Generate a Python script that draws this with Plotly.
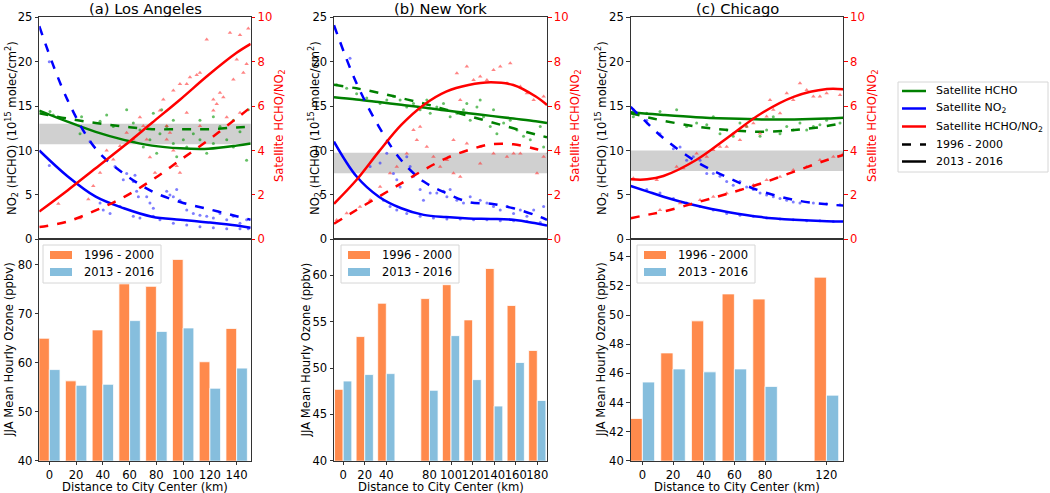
import plotly.graph_objects as go

W, H = 1050, 493
FONT = "DejaVu Sans"

# ================= DATA =================
# ---- top panels: fitted curves (distance km) ----
dist_a = [0, 20, 40, 60, 80, 100, 120, 140, 150]
hcho_a_96 = [14.2, 13.6, 13.1, 12.7, 12.4, 12.4, 12.4, 12.6, 12.7]
hcho_a_13 = [14.5, 13.25, 12.1, 11.2, 10.55, 10.25, 10.2, 10.55, 10.8]
no2_a_96 = [24.0, 15.7, 10.2, 7.4, 5.4, 4.2, 3.4, 2.6, 2.2]
no2_a_13 = [10.0, 7.1, 4.8, 3.5, 2.55, 2.2, 1.9, 1.55, 1.3]
ratio_a_96 = [0.55, 0.8, 1.3, 1.9, 2.67, 3.57, 4.47, 5.45, 5.95]
ratio_a_13 = [1.25, 2.2, 3.2, 4.2, 5.25, 6.3, 7.4, 8.4, 8.8]

dist_b = [0, 20, 40, 60, 80, 100, 120, 140, 160, 180, 190]
hcho_b_96 = [17.4, 17.0, 16.5, 15.9, 15.3, 14.6, 13.9, 13.2, 12.5, 11.8, 11.5]
hcho_b_13 = [16.0, 15.75, 15.45, 15.15, 14.85, 14.5, 14.2, 13.9, 13.6, 13.3, 13.1]
no2_b_96 = [24.1, 17.6, 12.7, 8.9, 6.5, 5.2, 4.2, 4.0, 3.5, 2.7, 2.2]
no2_b_13 = [11.0, 7.1, 4.8, 3.5, 2.75, 2.5, 2.35, 2.3, 2.2, 1.8, 1.55]
ratio_b_96 = [0.7, 1.32, 1.92, 2.52, 3.12, 3.65, 4.02, 4.28, 4.28, 4.07, 3.9]
ratio_b_13 = [1.6, 2.67, 3.95, 5.15, 6.05, 6.65, 6.95, 7.07, 6.95, 6.43, 6.05]

dist_c = [0, 10, 20, 40, 60, 80, 100, 120, 130]
hcho_c_96 = [14.2, 13.75, 13.35, 12.7, 12.3, 12.1, 12.3, 12.75, 13.1]
hcho_c_13 = [14.3, 14.15, 14.0, 13.75, 13.6, 13.5, 13.5, 13.6, 13.7]
no2_c_96 = [14.9, 13.1, 11.4, 8.75, 6.9, 5.4, 4.43, 3.94, 3.8]
no2_c_13 = [6.0, 5.4, 4.8, 3.8, 3.05, 2.5, 2.2, 2.03, 2.0]
ratio_c_96 = [0.95, 1.1, 1.25, 1.65, 2.07, 2.52, 3.05, 3.57, 3.8]
ratio_c_13 = [2.7, 2.7, 2.85, 3.57, 4.62, 5.68, 6.43, 6.77, 6.76]

# gray reference bands (left-axis units)
band_a = [10.7, 13.0]
band_b = [7.45, 9.75]
band_c = [7.7, 10.0]

# ---- top panels: scattered satellite values ----
pa_no2_x = [7.1, 7.1, 36.0, 53.7, 59.6, 62.0, 66.7, 67.9, 69.1, 70.3, 76.2, 78.5, 80.9, 90.4, 92.7, 95.1,
            97.5, 99.8, 104.6, 109.3, 114.0, 118.8, 123.5, 128.2, 133.0, 137.7, 142.4, 147.1, 43.1, 45.4,
            50.2, 57.3, 66.7, 71.4, 80.9, 85.6, 95.1, 104.6, 114.0, 123.5, 133.0, 142.4, 148.3]
pa_no2_y = [20.0, 8.3, 11.0, 8.2, 6.7, 7.4, 6.5, 7.2, 5.4, 4.8, 4.8, 4.1, 3.5, 5.4, 5.0, 4.8,
            5.6, 4.4, 3.3, 2.9, 2.7, 2.6, 2.4, 2.9, 2.2, 2.6, 1.8, 2.2, 4.1, 3.3,
            2.9, 3.7, 2.6, 2.4, 2.6, 2.2, 1.8, 1.6, 1.4, 1.3, 1.2, 1.2, 1.2]
pa_hcho_x = [7.6, 9.9, 28.9, 30.0, 43.1, 47.8, 52.5, 62.0, 66.7, 71.4, 73.8, 78.5, 83.3, 85.6, 90.4, 95.1,
             97.5, 102.2, 104.6, 109.3, 114.0, 118.8, 123.5, 128.2, 133.0, 137.7, 142.4, 147.1, 148.3,
             80.9, 86.8, 95.1, 114.0, 123.5, 137.7]
pa_hcho_y = [14.4, 14.0, 11.9, 13.8, 13.3, 14.0, 12.7, 14.6, 13.1, 12.3, 10.4, 11.2, 9.7, 11.9, 12.7, 10.8,
             9.3, 11.2, 10.4, 11.9, 11.2, 9.7, 10.8, 12.7, 11.2, 10.4, 12.1, 8.9, 14.6,
             14.2, 14.6, 13.4, 13.4, 13.8, 13.4]
pa_ratio_x = [13.5, 28.9, 34.8, 38.3, 43.1, 47.8, 52.5, 57.3, 62.0, 66.7, 71.4, 73.8, 76.2, 78.5, 82.1, 85.6,
              88.0, 90.4, 92.7, 95.1, 97.5, 99.8, 99.8, 104.6, 106.9, 111.7, 114.0, 118.8, 123.5, 125.9,
              128.2, 130.6, 135.3, 137.7, 140.1, 142.4, 144.8, 147.1, 148.3, 95.1, 104.6, 114.0, 123.5,
              133.0, 142.4, 90.4]
pa_ratio_y = [1.6, 0.95, 1.8, 2.4, 3.0, 4.0, 3.6, 4.2, 4.8, 4.5, 5.5, 5.1, 4.5, 3.7, 3.0, 5.8,
              6.3, 5.1, 4.8, 4.0, 3.3, 3.0, 7.0, 7.0, 7.3, 7.4, 7.5, 9.0, 6.3, 6.1,
              6.6, 6.4, 9.3, 7.2, 8.1, 9.2, 7.5, 7.9, 9.5, 6.7, 5.7, 5.1, 5.8,
              5.5, 5.7, 4.5]

pb_no2_x = [14.3, 32.2, 41.1, 47.1, 53.0, 56.0, 59.0, 64.9, 67.9, 70.9, 76.8, 79.8, 85.8, 91.7, 97.7, 100.7,
            103.6, 109.6, 115.5, 121.5, 130.4, 136.4, 142.3, 148.3, 154.3, 160.2, 166.2, 172.1, 178.1, 187.0,
            44.1, 50.0, 56.0, 64.9, 76.8, 88.7, 100.7, 112.6, 124.5, 136.4, 148.3, 160.2, 172.1, 184.0]
pb_no2_y = [20.4, 8.2, 8.6, 9.7, 7.4, 6.7, 5.9, 9.3, 8.2, 7.1, 5.6, 4.4, 5.2, 5.2, 5.4, 4.8,
            5.6, 4.4, 4.1, 4.8, 4.4, 4.1, 3.7, 3.3, 3.7, 2.9, 3.3, 2.6, 3.3, 3.7,
            4.4, 3.7, 3.3, 2.9, 2.6, 2.4, 2.3, 2.3, 2.2, 2.2, 2.1, 2.1, 2.0, 1.9]
pb_hcho_x = [2.4, 11.3, 20.2, 29.2, 41.1, 47.1, 53.0, 59.0, 64.9, 70.9, 76.8, 82.8, 85.8, 91.7, 97.7, 103.6,
             109.6, 115.5, 121.5, 127.5, 133.4, 139.4, 145.3, 151.3, 157.2, 163.2, 169.1, 175.1, 184.0, 187.0,
             118.5, 130.4, 142.3]
pb_hcho_y = [17.4, 17.0, 16.4, 15.9, 15.3, 15.7, 16.1, 15.7, 14.9, 15.3, 14.6, 15.7, 14.2, 14.9, 15.3, 13.8,
             14.2, 14.6, 13.4, 14.9, 13.8, 12.7, 11.9, 13.1, 13.4, 12.3, 11.6, 11.2, 12.7, 10.4,
             15.3, 15.7, 14.6]
pb_ratio_x = [2.4, 11.3, 23.2, 32.2, 41.1, 50.0, 56.0, 64.9, 70.9, 73.9, 76.8, 82.8, 88.7, 94.7, 100.7, 106.6,
              109.6, 112.6, 118.5, 124.5, 130.4, 136.4, 142.3, 148.3, 154.3, 157.2, 166.2, 172.1, 178.1, 187.0,
              118.5, 130.4, 142.3, 154.3, 166.2, 181.1, 187.0, 112.6, 106.6, 130.4, 160.2]
pb_ratio_y = [0.87, 1.17, 1.47, 1.77, 2.37, 2.97, 3.27, 3.87, 4.92, 4.47, 5.07, 4.17, 3.72, 3.27, 3.57, 2.97,
              7.48, 6.28, 7.78, 7.18, 7.33, 7.18, 7.63, 7.78, 7.03, 7.93, 6.88, 6.58, 6.28, 6.43,
              4.32, 4.17, 3.87, 3.72, 3.87, 2.97, 3.72, 2.82, 4.47, 3.42, 3.87]

pc_no2_x = [1.6, 9.8, 17.9, 26.1, 30.2, 34.2, 38.3, 42.4, 46.5, 50.5, 54.6, 58.7, 62.7, 66.8, 70.9, 75.0,
            79.1, 83.1, 87.2, 91.3, 95.4, 99.4, 103.5, 111.7, 119.8, 128.0,
            9.8, 17.9, 26.1, 34.2, 42.4, 50.5, 58.7, 66.8, 75.0, 83.1, 91.3, 99.4, 107.6, 115.7, 123.9]
pc_no2_y = [14.6, 13.4, 11.9, 10.2, 10.4, 8.9, 9.3, 8.9, 7.4, 7.4, 7.1, 6.5, 6.1, 6.5, 5.9, 5.6,
            5.2, 5.0, 4.8, 4.6, 4.4, 4.2, 4.1, 4.1, 4.0, 3.9,
            5.6, 5.2, 4.6, 4.1, 3.7, 3.3, 2.9, 2.7, 2.6, 2.4, 2.3, 2.2, 2.1, 2.1, 2.0]
pc_hcho_x = [1.6, 9.8, 17.9, 28.1, 34.2, 40.3, 46.5, 50.5, 54.6, 58.7, 62.7, 66.8, 70.9, 75.0, 79.1, 83.1,
             87.2, 91.3, 95.4, 99.4, 103.5, 107.6, 111.7, 115.7, 119.8, 128.0]
pc_hcho_y = [13.8, 14.2, 14.4, 14.6, 12.7, 13.1, 12.9, 13.8, 11.9, 12.3, 11.6, 13.1, 12.7, 13.6, 11.6, 12.3,
             13.8, 11.9, 12.7, 12.3, 13.1, 12.3, 12.7, 12.9, 13.4, 13.1]
pc_ratio_x = [1.6, 15.9, 28.1, 32.2, 40.3, 46.5, 50.5, 54.6, 58.7, 62.7, 66.8, 70.9, 75.0, 79.1, 83.1, 85.2,
              87.2, 91.3, 95.4, 99.4, 103.5, 107.6, 111.7, 115.7, 119.8, 128.0,
              17.9, 30.2, 42.4, 50.5, 58.7, 66.8, 75.0, 83.1, 91.3, 99.4, 107.6, 115.7, 123.9, 130.0]
pc_ratio_y = [2.75, 2.67, 3.27, 3.20, 3.87, 3.72, 4.02, 4.17, 4.17, 4.77, 4.47, 5.08, 5.23, 4.77, 5.53, 6.28,
              5.83, 5.68, 6.58, 6.28, 7.03, 6.73, 6.43, 6.43, 6.58, 6.50,
              1.32, 1.62, 1.77, 1.92, 2.07, 2.22, 2.45, 2.67, 2.82, 3.12, 3.27, 3.57, 3.72, 3.87]

# ---- bottom panels: JJA mean hourly ozone (ppbv) ----
bar_x_a = [0, 20, 40, 60, 80, 100, 120, 140]
o3_a_96 = [65.0, 56.3, 66.7, 76.1, 75.6, 81.1, 60.2, 67.0]
o3_a_13 = [58.6, 55.4, 55.6, 68.6, 66.4, 67.1, 54.8, 58.9]
bar_x_b = [0, 20, 40, 80, 100, 120, 140, 160, 180]
o3_b_96 = [47.7, 53.4, 57.0, 57.5, 59.0, 55.2, 60.75, 56.75, 51.9]
o3_b_13 = [48.6, 49.3, 49.4, 47.6, 53.5, 48.75, 45.9, 50.6, 46.5]
bar_x_c = [0, 20, 40, 60, 80, 120]
o3_c_96 = [42.9, 47.4, 49.6, 51.45, 51.1, 52.6]
o3_c_13 = [45.4, 46.3, 46.1, 46.3, 45.1, 44.5]

titles = ["(a) Los Angeles", "(b) New York", "(c) Chicago"]
period_labels = ["1996 - 2000", "2013 - 2016"]
legend_labels = ["Satellite HCHO", "Satellite NO<sub>2</sub>", "Satellite HCHO/NO<sub>2</sub>"]

# ================= STYLE / LAYOUT =================
GREEN, BLUE, RED = "#008000", "#0000ff", "#ff0000"
ORANGE, SKY = "#ff8a4c", "#86bedd"
SPINE = "#333333"


def px_x(p):
    return p / W


def px_y(p):
    return 1 - p / H


def ref(prefix, n):
    return prefix if n == 1 else f"{prefix}{n}"


def key(prefix, n):
    return prefix + "axis" + ("" if n == 1 else str(n))


panel_px = [(39.3, 250.7), (334.0, 547.0), (630.7, 843.3)]
top_px = (17.3, 239.3)
bot_px = (239.3, 460.7)

top_ranges = [[0, 150], [0, 190], [0, 130]]
bot_xranges = [[-7.5, 150.5], [-8.5, 189], [-7.6, 131]]
bot_yranges = [[40, 85.2], [40, 63.9], [40, 55.2]]
bot_ticks = [[40, 50, 60, 70, 80], [40, 45, 50, 55, 60], [40, 42, 44, 46, 48, 50, 52, 54]]

panels = [
    dict(d=dist_a, h96=hcho_a_96, h13=hcho_a_13, n96=no2_a_96, n13=no2_a_13, r96=ratio_a_96, r13=ratio_a_13,
         band=band_a, nx=pa_no2_x, ny=pa_no2_y, hx=pa_hcho_x, hy=pa_hcho_y, rx=pa_ratio_x, ry=pa_ratio_y,
         bx=bar_x_a, o96=o3_a_96, o13=o3_a_13),
    dict(d=dist_b, h96=hcho_b_96, h13=hcho_b_13, n96=no2_b_96, n13=no2_b_13, r96=ratio_b_96, r13=ratio_b_13,
         band=band_b, nx=pb_no2_x, ny=pb_no2_y, hx=pb_hcho_x, hy=pb_hcho_y, rx=pb_ratio_x, ry=pb_ratio_y,
         bx=bar_x_b, o96=o3_b_96, o13=o3_b_13),
    dict(d=dist_c, h96=hcho_c_96, h13=hcho_c_13, n96=no2_c_96, n13=no2_c_13, r96=ratio_c_96, r13=ratio_c_13,
         band=band_c, nx=pc_no2_x, ny=pc_no2_y, hx=pc_hcho_x, hy=pc_hcho_y, rx=pc_ratio_x, ry=pc_ratio_y,
         bx=bar_x_c, o96=o3_c_96, o13=o3_c_13),
]

fig = go.Figure()
shapes, anns = [], []
layout = dict(
    width=W, height=H, margin=dict(l=0, r=0, t=0, b=0, autoexpand=False),
    paper_bgcolor="white", plot_bgcolor="white", showlegend=False,
    font=dict(family=FONT, size=11.4, color="black"),
    barmode="overlay",
)

axis_common = dict(showgrid=False, zeroline=False, showline=True, linecolor=SPINE, linewidth=1,
                   ticks="outside", ticklen=3.5, tickcolor=SPINE, automargin=False, tickangle=0,
                   tickfont=dict(size=11.6, family=FONT, color="black"))

bar_leg_x = [43, 341, 637]

for i, p in enumerate(panels):
    nxt, nxb = 2 * i + 1, 2 * i + 2
    nyl, nyr, nyb = 3 * i + 1, 3 * i + 2, 3 * i + 3
    xt, xb = ref("x", nxt), ref("x", nxb)
    yl, yr, yb = ref("y", nyl), ref("y", nyr), ref("y", nyb)
    dom_x = [px_x(panel_px[i][0]), px_x(panel_px[i][1])]

    layout[key("x", nxt)] = dict(axis_common, domain=dom_x, range=top_ranges[i], anchor=yl,
                                 showticklabels=False, ticks="", mirror=True)
    layout[key("y", nyl)] = dict(axis_common, domain=[px_y(top_px[1]), px_y(top_px[0])], range=[0, 25],
                                 anchor=xt, tickvals=[0, 5, 10, 15, 20, 25])
    layout[key("y", nyr)] = dict(axis_common, overlaying=yl, side="right", anchor=xt, range=[0, 10],
                                 tickvals=[0, 2, 4, 6, 8, 10], tickcolor=RED,
                                 tickfont=dict(size=11.6, family=FONT, color=RED))
    layout[key("x", nxb)] = dict(axis_common, domain=dom_x, range=bot_xranges[i], anchor=yb,
                                 tickvals=p["bx"], mirror=True)
    layout[key("y", nyb)] = dict(axis_common, domain=[px_y(bot_px[1]), px_y(bot_px[0])],
                                 range=bot_yranges[i], anchor=xb, tickvals=bot_ticks[i], mirror=True)

    # gray band
    shapes.append(dict(type="rect", xref=f"{xt} domain", yref=yl, x0=0, x1=1,
                       y0=p["band"][0], y1=p["band"][1], fillcolor="#d0d0d0",
                       line=dict(width=0), layer="below"))

    # scatter points + fitted curves
    fig.add_trace(go.Scatter(x=p["hx"], y=p["hy"], xaxis=xt, yaxis=yl, mode="markers",
                             marker=dict(size=3, color="rgba(0,150,0,0.6)")))
    fig.add_trace(go.Scatter(x=p["nx"], y=p["ny"], xaxis=xt, yaxis=yl, mode="markers",
                             marker=dict(size=3, color="rgba(40,40,255,0.6)")))
    for yv, dash in ((p["h96"], "dash"), (p["h13"], "solid")):
        fig.add_trace(go.Scatter(x=p["d"], y=yv, xaxis=xt, yaxis=yl, mode="lines",
                                 line=dict(color=GREEN, width=2.5, dash=dash, shape="spline")))
    for yv, dash in ((p["n96"], "dash"), (p["n13"], "solid")):
        fig.add_trace(go.Scatter(x=p["d"], y=yv, xaxis=xt, yaxis=yl, mode="lines",
                                 line=dict(color=BLUE, width=2.5, dash=dash, shape="spline")))
    fig.add_trace(go.Scatter(x=p["rx"], y=p["ry"], xaxis=xt, yaxis=yr, mode="markers",
                             marker=dict(size=4, symbol="triangle-up", color="rgba(255,50,50,0.6)")))
    for yv, dash in ((p["r96"], "dash"), (p["r13"], "solid")):
        fig.add_trace(go.Scatter(x=p["d"], y=yv, xaxis=xt, yaxis=yr, mode="lines",
                                 line=dict(color=RED, width=2.5, dash=dash, shape="spline")))

    # bars
    fig.add_trace(go.Bar(x=p["bx"], y=p["o96"], xaxis=xb, yaxis=yb, width=8, offset=-8,
                         marker=dict(color=ORANGE, line=dict(color="white", width=0.8)),
                         name=period_labels[0]))
    fig.add_trace(go.Bar(x=p["bx"], y=p["o13"], xaxis=xb, yaxis=yb, width=8, offset=0,
                         marker=dict(color=SKY, line=dict(color="white", width=0.8)),
                         name=period_labels[1]))

    # bar legend (drawn manually, matplotlib style)
    lx = bar_leg_x[i]
    shapes.append(dict(type="rect", xref="paper", yref="paper", x0=px_x(lx), x1=px_x(lx + 118),
                       y0=px_y(283), y1=px_y(245), fillcolor="rgba(255,255,255,0.85)",
                       line=dict(color="#d6d6d6", width=1), layer="above"))
    for k, (col, lab) in enumerate(((ORANGE, period_labels[0]), (SKY, period_labels[1]))):
        yc = 255 + k * 17
        shapes.append(dict(type="rect", xref="paper", yref="paper", x0=px_x(lx + 7), x1=px_x(lx + 29),
                           y0=px_y(yc + 4), y1=px_y(yc - 4), fillcolor=col, line=dict(width=0),
                           layer="above"))
        anns.append(dict(text=lab, x=px_x(lx + 39), y=px_y(yc), xref="paper", yref="paper",
                         showarrow=False, xanchor="left", yanchor="middle",
                         font=dict(size=11.5, family=FONT)))

    cx = (panel_px[i][0] + panel_px[i][1]) / 2
    anns.append(dict(text=titles[i], x=px_x(cx), y=px_y(9), xref="paper", yref="paper", showarrow=False,
                     xanchor="center", yanchor="middle", font=dict(size=14.7, family=FONT)))
    anns.append(dict(text="Distance to City Center (km)", x=px_x(cx), y=px_y(486.5), xref="paper",
                     yref="paper", showarrow=False, xanchor="center", yanchor="middle",
                     font=dict(size=11.6, family=FONT)))

left_lab_x = [11, 314, 601]
right_lab_x = [279, 575, 872]
bot_lab_x = [9, 305.5, 601]
for i in range(3):
    anns.append(dict(text="NO<sub>2</sub> (HCHO) (10<sup>15</sup> molec/cm<sup>2</sup>)",
                     x=px_x(left_lab_x[i]), y=px_y(128), xref="paper", yref="paper", showarrow=False,
                     textangle=-90, xanchor="center", yanchor="middle", font=dict(size=11.6, family=FONT)))
    anns.append(dict(text="Satellite HCHO/NO<sub>2</sub>", x=px_x(right_lab_x[i]), y=px_y(126),
                     xref="paper", yref="paper", showarrow=False, textangle=-90,
                     xanchor="center", yanchor="middle", font=dict(size=11.6, family=FONT, color=RED)))
    anns.append(dict(text="JJA Mean Hourly Ozone (ppbv)", x=px_x(bot_lab_x[i]), y=px_y(350),
                     xref="paper", yref="paper", showarrow=False, textangle=-90,
                     xanchor="center", yanchor="middle", font=dict(size=11.6, family=FONT)))

# main legend (manual, matplotlib style)
shapes.append(dict(type="rect", xref="paper", yref="paper", x0=px_x(898), x1=px_x(1048),
                   y0=px_y(172), y1=px_y(82), fillcolor="white", line=dict(color="#d6d6d6", width=1),
                   layer="above"))
main_items = [(legend_labels[0], GREEN, "solid"), (legend_labels[1], BLUE, "solid"),
              (legend_labels[2], RED, "solid"), (period_labels[0], "black", "dash"),
              (period_labels[1], "black", "solid")]
row_y = [91, 108.5, 126.5, 144.5, 161.5]
for (lab, col, dash), yy in zip(main_items, row_y):
    shapes.append(dict(type="line", xref="paper", yref="paper", x0=px_x(902), x1=px_x(926),
                       y0=px_y(yy), y1=px_y(yy), line=dict(color=col, width=2.5, dash=dash), layer="above"))
    anns.append(dict(text=lab, x=px_x(934), y=px_y(yy), xref="paper", yref="paper", showarrow=False,
                     xanchor="left", yanchor="middle", font=dict(size=11, family=FONT)))

layout["shapes"] = shapes
layout["annotations"] = anns
fig.update_layout(**layout)
fig.update_traces(showlegend=False)
# remove the browser's default 8px page margin so the 1050x493 figure fills the window exactly
fig.write_html("out.html", config={"displayModeBar": False},
               post_script="document.body.style.margin='0px';document.body.style.overflow='hidden';")
